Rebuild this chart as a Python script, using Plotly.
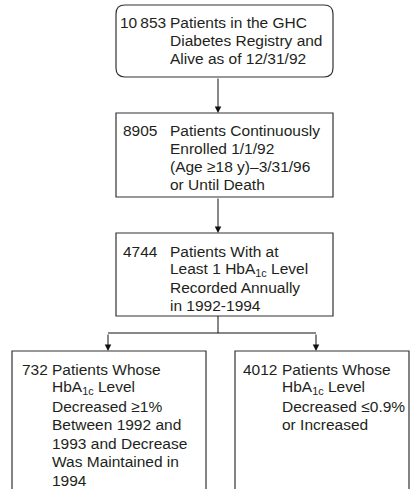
import plotly.graph_objects as go

# ---- data (text content of the flowchart) ----
counts = ["10\u2009853", "8905", "4744", "732", "4012"]
box1_lines = ["Patients in the GHC", "Diabetes Registry and", "Alive as of 12/31/92"]
box2_lines = ["Patients Continuously", "Enrolled 1/1/92", "(Age \u226518 y)\u20133/31/96", "or Until Death"]
box3_lines = ["Patients With at", "Least 1 HbA<sub>1c</sub> Level", "Recorded Annually", "in 1992-1994"]
box4_lines = ["Patients Whose", "HbA<sub>1c</sub> Level", "Decreased \u22651%", "Between 1992 and",
              "1993 and Decrease", "Was Maintained in", "1994"]
box5_lines = ["Patients Whose", "HbA<sub>1c</sub> Level", "Decreased \u22640.9%", "or Increased"]
box_texts = [box1_lines, box2_lines, box3_lines, box4_lines, box5_lines]

# ---- layout geometry (pixels, y downward) ----
W, H = 413, 489
geom = [
    dict(x0=116, x1=333, y0=5, y1=77, rounded=True, nx=118, tx=168, ty=22, lh=18),
    dict(x0=116, x1=333, y0=113, y1=197, rounded=False, nx=121, tx=168, ty=130, lh=18),
    dict(x0=116, x1=333, y0=233, y1=316, rounded=False, nx=121, tx=168, ty=251, lh=18),
    dict(x0=12, x1=206, y0=351, y1=520, rounded=False, nx=20, tx=50, ty=369, lh=18.5),
    dict(x0=235, x1=409, y0=351, y1=520, rounded=False, nx=241, tx=280, ty=369, lh=18.5),
]
FONT = dict(family="Liberation Sans, Arial, Helvetica, sans-serif", size=15.5, color="#231f20")
BORDER = dict(color="#333333", width=1.2)

fig = go.Figure()
shapes = []
annotations = []

for g, num, lines in zip(geom, counts, box_texts):
    x0, x1, y0, y1 = g["x0"], g["x1"], g["y0"], g["y1"]
    if g["rounded"]:
        r = 9
        path = (f"M {x0+r},{y0} L {x1-r},{y0} Q {x1},{y0} {x1},{y0+r} "
                f"L {x1},{y1-r} Q {x1},{y1} {x1-r},{y1} L {x0+r},{y1} "
                f"Q {x0},{y1} {x0},{y1-r} L {x0},{y0+r} Q {x0},{y0} {x0+r},{y0} Z")
        shapes.append(dict(type="path", path=path, xref="x", yref="y", line=BORDER))
    else:
        shapes.append(dict(type="rect", x0=x0, x1=x1, y0=y0, y1=y1, xref="x", yref="y", line=BORDER))
    annotations.append(dict(x=g["nx"], y=g["ty"], xref="x", yref="y", text=num, showarrow=False,
                            xanchor="left", yanchor="middle", font=FONT))
    for i, t in enumerate(lines):
        annotations.append(dict(x=g["tx"], y=g["ty"] + i * g["lh"], xref="x", yref="y", text=t,
                                showarrow=False, xanchor="left", yanchor="middle", font=FONT))

# connectors
AX = 218
LINE = dict(color="#111111", width=1)


def arrow(x, ytail, ytip):
    annotations.append(dict(x=x, y=ytip, ax=x, ay=ytail, xref="x", yref="y", axref="x", ayref="y",
                            text="", showarrow=True, arrowhead=2, arrowsize=1.3, arrowwidth=1,
                            arrowcolor="#111111", standoff=0, startstandoff=0))


arrow(AX, geom[0]["y1"], geom[1]["y0"])
arrow(AX, geom[1]["y1"], geom[2]["y0"])
split_y = 333
bx_left, bx_right = 108, 316
shapes.append(dict(type="line", x0=AX, x1=AX, y0=geom[2]["y1"], y1=split_y, xref="x", yref="y", line=LINE))
shapes.append(dict(type="line", x0=bx_left, x1=bx_right, y0=split_y, y1=split_y, xref="x", yref="y", line=LINE))
arrow(bx_left, split_y, geom[3]["y0"])
arrow(bx_right, split_y, geom[4]["y0"])

fig.update_layout(
    width=W, height=H,
    margin=dict(l=0, r=0, t=0, b=0),
    paper_bgcolor="white", plot_bgcolor="white",
    xaxis=dict(range=[0, W], visible=False, fixedrange=True),
    yaxis=dict(range=[H, 0], visible=False, fixedrange=True),
    shapes=shapes, annotations=annotations, showlegend=False,
)
fig.write_html("out.html", config={"displayModeBar": False},
               post_script="document.body.style.margin='0';document.body.style.overflow='hidden';")
